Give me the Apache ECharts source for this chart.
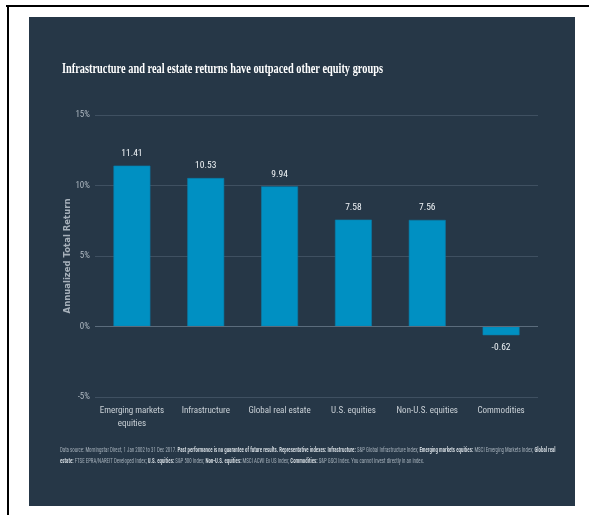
<!DOCTYPE html>
<html><head><meta charset="utf-8">
<script src="https://cdn.jsdelivr.net/npm/echarts@6/dist/echarts.min.js"></script>
<style>html,body{margin:0;padding:0;background:#fff;}#c{width:589px;height:515px;}</style>
</head><body><div id="c"></div>
<script>
const categories = ['Emerging markets\nequities', 'Infrastructure', 'Global real estate', 'U.S. equities', 'Non-U.S. equities', 'Commodities'];
const returns = [11.41, 10.53, 9.94, 7.58, 7.56, -0.62];
const yTicks = [-5, 0, 5, 10, 15];
const titleText = 'Infrastructure and real estate returns have outpaced other equity groups';
const yName = 'Annualized Total Return';

const NARROW = '"Liberation Sans Narrow", "Roboto Condensed", "DejaVu Sans Condensed", sans-serif';
const chart = echarts.init(document.getElementById('c'), null, {renderer: 'canvas'});
const foot1 = '{n|Data source: Morningstar Direct, 1 Jan 2002 to 31 Dec 2017. }{b|Past performance is no guarantee of future results. Representative indexes: Infrastructure:}{n| S&P Global Infrastructure Index; }{b|Emerging markets equities:}{n| MSCI Emerging Markets Index; }{b|Global real}';
const foot2 = '{b|estate:}{n| FTSE EPRA/NAREIT Developed Index; }{b|U.S. equities:}{n| S&P 500 Index; }{b|Non-U.S. equities:}{n| MSCI ACWI Ex US Index; }{b|Commodities:}{n| S&P GSCI Index. You cannot invest directly in an index.}';
const footRich = {
  n: {fill: '#a3aeb8', fontSize: 7, fontFamily: NARROW},
  b: {fill: '#d0d7dd', fontSize: 7, fontFamily: NARROW, fontWeight: 'bold'}
};
chart.setOption({
  backgroundColor: '#ffffff',
  animation: false,
  graphic: [
    {type: 'rect', z: -10, shape: {x: 29, y: 17, width: 546, height: 489}, style: {fill: '#263747'}},
    {type: 'rect', z: -9, shape: {x: 6, y: 5, width: 583, height: 2}, style: {fill: '#000'}},
    {type: 'rect', z: -9, shape: {x: 7, y: 5, width: 2, height: 510}, style: {fill: '#000'}},
    {type: 'text', x: 62, y: 62, scaleX: 0.69, style: {text: titleText, fill: '#ffffff',
      font: 'bold 15px "Liberation Serif", "DejaVu Serif", serif'}},
    {type: 'text', x: 60, y: 447, scaleX: 0.7, style: {text: foot1, rich: footRich}},
    {type: 'text', x: 60, y: 458, scaleX: 0.7, style: {text: foot2, rich: footRich}}
  ],
  grid: {left: 95, right: 51, top: 115, bottom: 118, containLabel: false},
  xAxis: {
    type: 'category', data: categories,
    axisLine: {show: false}, axisTick: {show: false},
    axisLabel: {color: '#c9d0d6', fontSize: 9, fontFamily: NARROW, lineHeight: 13, margin: 7, interval: 0}
  },
  yAxis: {
    type: 'value', min: -5, max: 15, interval: 5,
    name: yName, nameLocation: 'middle', nameGap: 23, nameMoveOverlap: false,
    nameTextStyle: {color: '#a6b0ba', fontSize: 8.5, fontWeight: 'bold', fontFamily: 'DejaVu Sans, sans-serif'},
    axisLine: {show: false}, axisTick: {show: false},
    axisLabel: {color: '#aeb8c1', fontSize: 9, fontFamily: NARROW, margin: 5,
      formatter: v => yTicks.includes(v) ? v + '%' : ''},
    splitLine: {lineStyle: {color: '#3f5061', width: 1}}
  },
  series: [{
    type: 'bar', barWidth: '50%',
    data: returns.map(v => v < 0 ? {value: v, label: {position: 'bottom'}} : v),
    itemStyle: {color: '#0090c2', borderColor: '#0a7aa6', borderWidth: 0.6},
    label: {show: true, position: 'top', distance: 7, color: '#eef2f5', fontSize: 9.5, fontFamily: NARROW,
      formatter: p => p.value.toFixed(2)},
    markLine: {
      silent: true, symbol: 'none', label: {show: false},
      lineStyle: {color: '#5b6c7c', type: 'solid', width: 1},
      data: [{yAxis: 0}]
    }
  }]
});
</script></body></html>
